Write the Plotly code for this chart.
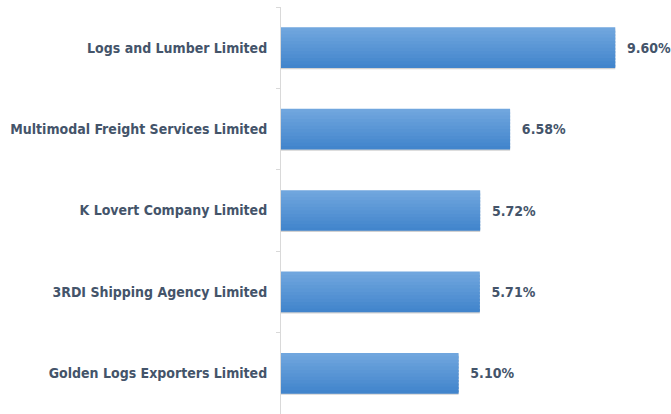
import plotly.graph_objects as go

companies = [
    "Logs and Lumber Limited",
    "Multimodal Freight Services Limited",
    "K Lovert Company Limited",
    "3RDI Shipping Agency Limited",
    "Golden Logs Exporters Limited",
]
shares = [9.60, 6.58, 5.72, 5.71, 5.10]
labels = ["9.60%", "6.58%", "5.72%", "5.71%", "5.10%"]

FONT = "Liberation Sans Narrow, DejaVu Sans Condensed, Roboto, sans-serif"
TXT = "#44546A"

fig = go.Figure()

# shadow
fig.add_trace(go.Bar(
    y=companies, x=shares, orientation="h", width=0.5, offset=-0.235,
    marker=dict(color="rgba(0,0,0,0.18)", line=dict(width=0)),
    hoverinfo="skip", showlegend=False,
))

# gradient body from stacked thin bars
N = 12
top = (112, 166, 222)
bot = (66, 133, 204)
bw = 0.5 / N
for i in range(N):
    t = i / (N - 1)
    c = tuple(round(top[k] + (bot[k] - top[k]) * t) for k in range(3))
    w = bw * 1.6 if i < N - 1 else bw
    fig.add_trace(go.Bar(
        y=companies, x=shares, orientation="h",
        width=w, offset=-0.25 + i * bw,
        marker=dict(color="rgb(%d,%d,%d)" % c, line=dict(width=0)),
        hoverinfo="skip", showlegend=False,
    ))

# labels
fig.add_trace(go.Bar(
    y=companies, x=shares, orientation="h", width=0.5, offset=-0.25,
    marker=dict(color="rgba(0,0,0,0)", line=dict(width=0)),
    text=["\u00a0\u00a0" + s for s in labels], textposition="outside",
    textfont=dict(family=FONT, size=14, color=TXT, weight="bold"),
    cliponaxis=False, showlegend=False,
))

fig.update_layout(
    width=671, height=414,
    margin=dict(l=281, r=7, t=7, b=0, autoexpand=False),
    barmode="overlay",
    plot_bgcolor="white", paper_bgcolor="white",
    font=dict(family=FONT, size=14, color=TXT),
    showlegend=False,
)
fig.update_xaxes(range=[0, 11], visible=False, showgrid=False, zeroline=False)
fig.update_yaxes(
    autorange="reversed", showgrid=False, zeroline=False, automargin=False,
    showline=True, linecolor="#D9D9D9", linewidth=1,
    ticks="outside", tickson="boundaries", ticklen=4, tickcolor="#D9D9D9",
    ticklabelstandoff=10,
    tickfont=dict(family=FONT, size=14, color=TXT, weight="bold"),
)

fig.write_html(
    "out.html",
    config={"displayModeBar": False},
    post_script="document.body.style.margin='0';document.body.style.overflow='hidden';",
)
